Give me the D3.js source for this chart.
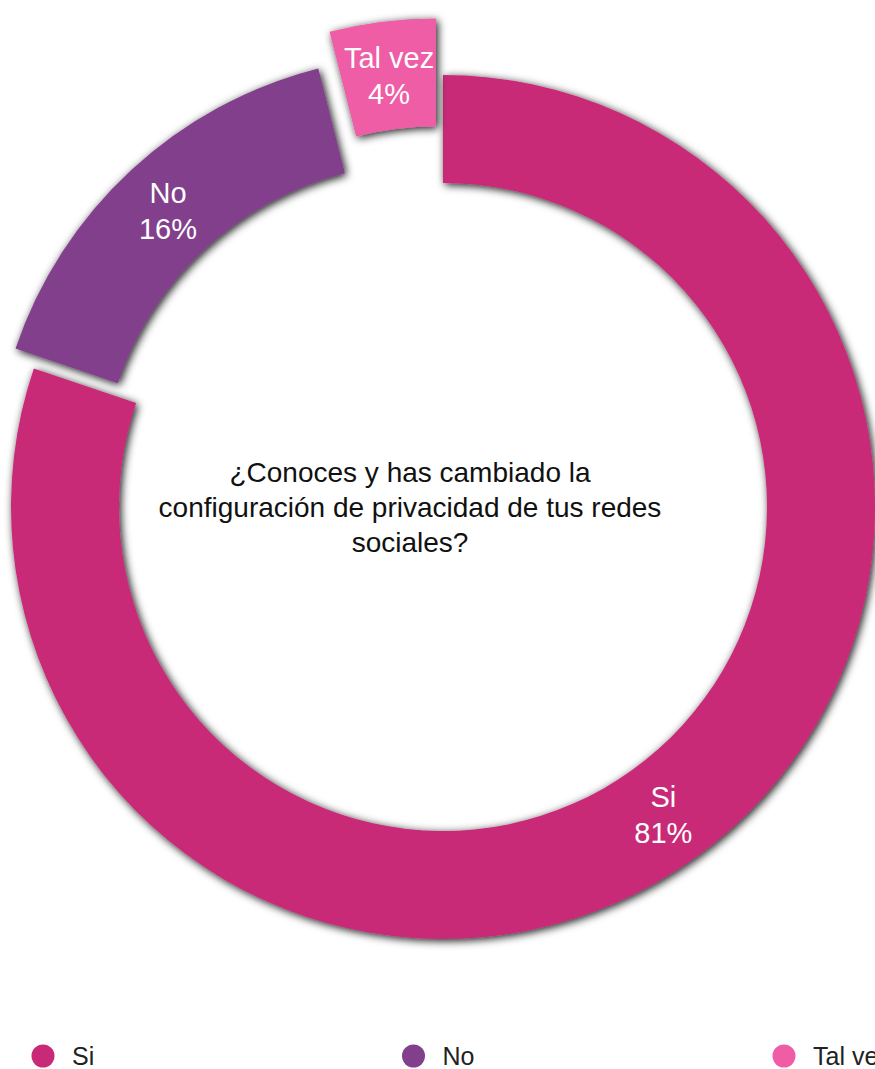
<!DOCTYPE html>
<html>
<head>
<meta charset="utf-8">
<script src="https://cdn.jsdelivr.net/npm/d3@7"></script>
<style>
  html, body { margin: 0; padding: 0; background: #fff; }
  svg { display: block; }
  text { font-family: Helvetica, Arial, "Liberation Sans", sans-serif; }
</style>
</head>
<body>
<svg id="chart" width="875" height="1069"></svg>
<script>
// Survey answers
const categories = ["Si", "No", "Tal vez"];
const percentages = [81, 16, 4];
const sliceColors = ["#C92A78", "#823F8C", "#EE5DA5"];
// how far each slice is pulled out from the centre (px)
const pullOut = [0, 27, 57];
const questionLines = [
  "¿Conoces y has cambiado la",
  "configuración de privacidad de tus redes",
  "sociales?"
];

const W = 875, H = 1069;
const cx = 443, cy = 507;
const outerR = 432, innerR = 324;

const svg = d3.select("#chart");

// soft dark shadow around every slice
const defs = svg.append("defs");
const f = defs.append("filter").attr("id", "sliceShadow")
  .attr("x", "-20%").attr("y", "-20%").attr("width", "140%").attr("height", "140%");
f.append("feDropShadow")
  .attr("dx", 2).attr("dy", 2)
  .attr("stdDeviation", 4.5)
  .attr("flood-color", "#000")
  .attr("flood-opacity", 0.9);

const data = categories.map((c, i) => ({ name: c, value: percentages[i], color: sliceColors[i], pull: pullOut[i] }));

const pie = d3.pie().value(d => d.value).sort(null);
const arc = d3.arc().innerRadius(innerR).outerRadius(outerR);
const arcs = pie(data);

const g = svg.append("g").attr("transform", `translate(${cx},${cy})`);

// offset of a slice along its mid angle
function shift(d) {
  const a = (d.startAngle + d.endAngle) / 2;
  return [Math.sin(a) * d.data.pull, -Math.cos(a) * d.data.pull];
}

const slices = g.selectAll("g.slice")
  .data(arcs)
  .join("g")
  .attr("class", "slice")
  .attr("transform", d => { const [dx, dy] = shift(d); return `translate(${dx},${dy})`; });

slices.append("path")
  .attr("d", arc)
  .attr("fill", d => d.data.color)
  .attr("filter", "url(#sliceShadow)");

// slice labels: category and percentage
slices.append("text")
  .attr("transform", d => `translate(${arc.centroid(d)})`)
  .attr("text-anchor", "middle")
  .attr("fill", "#fff")
  .attr("font-size", 29)
  .each(function(d) {
    const t = d3.select(this);
    t.append("tspan").attr("x", 0).attr("y", -7).text(d.data.name);
    t.append("tspan").attr("x", 0).attr("y", 29).text(d.data.value + "%");
  });

// question in the middle of the ring
const q = svg.append("text")
  .attr("text-anchor", "middle")
  .attr("fill", "#111")
  .attr("font-size", 28);
questionLines.forEach((line, i) => {
  q.append("tspan").attr("x", 410).attr("y", 482 + i * 35).text(line);
});

// legend along the bottom
const legendX = d3.scalePoint().domain(categories).range([43, 784]);
const legend = svg.append("g").selectAll("g")
  .data(data)
  .join("g")
  .attr("transform", d => `translate(${legendX(d.name)},1056)`);
legend.append("circle")
  .attr("r", 11.5)
  .attr("fill", d => d.color);
legend.append("text")
  .attr("x", 29)
  .attr("y", 9)
  .attr("font-size", 25)
  .attr("fill", "#222")
  .text(d => d.name);
</script>
</body>
</html>
